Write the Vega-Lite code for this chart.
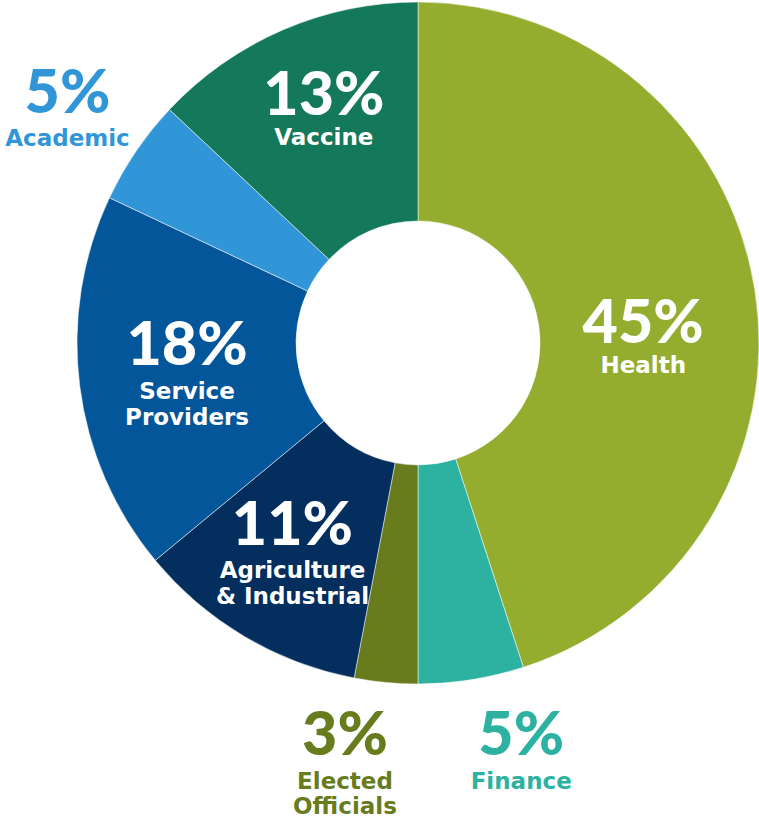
{
  "$schema": "https://vega.github.io/schema/vega-lite/v6.json",
  "width": 682,
  "height": 682,
  "autosize": {"type": "none"},
  "padding": {"left": 77, "top": 2, "right": 0, "bottom": 133},
  "background": "white",
  "config": {"view": {"stroke": null}},
  "data": {
    "values": [
      {"idx": 1, "category": "Health", "value": 45, "pct": "45%", "name": "Health"},
      {"idx": 2, "category": "Finance", "value": 5, "pct": "5%", "name": "Finance"},
      {"idx": 3, "category": "Elected Officials", "value": 3, "pct": "3%", "name": "Elected\nOfficials"},
      {"idx": 4, "category": "Agriculture & Industrial", "value": 11, "pct": "11%", "name": "Agriculture\n& Industrial"},
      {"idx": 5, "category": "Service Providers", "value": 18, "pct": "18%", "name": "Service\nProviders"},
      {"idx": 6, "category": "Academic", "value": 5, "pct": "5%", "name": "Academic"},
      {"idx": 7, "category": "Vaccine", "value": 13, "pct": "13%", "name": "Vaccine"}
    ]
  },
  "encoding": {
    "theta": {"field": "value", "type": "quantitative", "stack": true},
    "order": {"field": "idx", "type": "quantitative"},
    "detail": {"field": "category", "type": "nominal"}
  },
  "layer": [
    {
      "mark": {"type": "arc", "outerRadius": 341, "innerRadius": 122, "stroke": "white", "strokeWidth": 0.5},
      "encoding": {
        "color": {
          "field": "category", "type": "nominal", "legend": null,
          "scale": {
            "domain": ["Health", "Finance", "Elected Officials", "Agriculture & Industrial", "Service Providers", "Academic", "Vaccine"],
            "range": ["#95AD2E", "#2DB1A0", "#687B1D", "#032E5E", "#04569A", "#3196D7", "#13795A"]
          }
        }
      }
    },
    {
      "mark": {"type": "text", "radius": 228, "dy": 36, "align": "center", "baseline": "alphabetic", "font": "Lato", "fontWeight": 900, "fontSize": 61, "color": "white"},
      "encoding": {"text": {"condition": {"test": "datum.category === 'Health'", "field": "pct", "type": "nominal"}, "value": ""}}
    },
    {
      "mark": {"type": "text", "radius": 228, "dy": 66, "align": "center", "baseline": "alphabetic", "font": "DejaVu Sans", "fontWeight": "bold", "fontSize": 23, "lineHeight": 25.5, "lineBreak": "\n", "color": "white"},
      "encoding": {"text": {"condition": {"test": "datum.category === 'Health'", "field": "name", "type": "nominal"}, "value": ""}}
    },
    {
      "mark": {"type": "text", "radius": 237, "dy": -10.5, "align": "center", "baseline": "alphabetic", "font": "Lato", "fontWeight": 900, "fontSize": 61, "color": "white"},
      "encoding": {"text": {"condition": {"test": "datum.category === 'Vaccine'", "field": "pct", "type": "nominal"}, "value": ""}}
    },
    {
      "mark": {"type": "text", "radius": 237, "dy": 19.5, "align": "center", "baseline": "alphabetic", "font": "DejaVu Sans", "fontWeight": "bold", "fontSize": 23, "lineHeight": 25.5, "lineBreak": "\n", "color": "white"},
      "encoding": {"text": {"condition": {"test": "datum.category === 'Vaccine'", "field": "name", "type": "nominal"}, "value": ""}}
    },
    {
      "mark": {"type": "text", "radius": 232.8, "dy": -7, "align": "center", "baseline": "alphabetic", "font": "Lato", "fontWeight": 900, "fontSize": 61, "color": "white"},
      "encoding": {"text": {"condition": {"test": "datum.category === 'Service Providers'", "field": "pct", "type": "nominal"}, "value": ""}}
    },
    {
      "mark": {"type": "text", "radius": 232.8, "dy": 27, "align": "center", "baseline": "alphabetic", "font": "DejaVu Sans", "fontWeight": "bold", "fontSize": 23, "lineHeight": 25.5, "lineBreak": "\n", "color": "white"},
      "encoding": {"text": {"condition": {"test": "datum.category === 'Service Providers'", "field": "name", "type": "nominal"}, "value": ""}}
    },
    {
      "mark": {"type": "text", "radius": 246.6, "dy": -10, "align": "center", "baseline": "alphabetic", "font": "Lato", "fontWeight": 900, "fontSize": 61, "color": "white"},
      "encoding": {"text": {"condition": {"test": "datum.category === 'Agriculture & Industrial'", "field": "pct", "type": "nominal"}, "value": ""}}
    },
    {
      "mark": {"type": "text", "radius": 246.6, "dy": 23, "align": "center", "baseline": "alphabetic", "font": "DejaVu Sans", "fontWeight": "bold", "fontSize": 23, "lineHeight": 25.5, "lineBreak": "\n", "color": "white"},
      "encoding": {"text": {"condition": {"test": "datum.category === 'Agriculture & Industrial'", "field": "name", "type": "nominal"}, "value": ""}}
    },
    {
      "mark": {"type": "text", "radius": 423.8, "dy": 8, "align": "center", "baseline": "alphabetic", "font": "Lato", "fontWeight": 900, "fontSize": 61, "color": "#3196D7"},
      "encoding": {"text": {"condition": {"test": "datum.category === 'Academic'", "field": "pct", "type": "nominal"}, "value": ""}}
    },
    {
      "mark": {"type": "text", "radius": 423.8, "dy": 41, "align": "center", "baseline": "alphabetic", "font": "DejaVu Sans", "fontWeight": "bold", "fontSize": 23, "lineHeight": 25.5, "lineBreak": "\n", "color": "#3196D7"},
      "encoding": {"text": {"condition": {"test": "datum.category === 'Academic'", "field": "name", "type": "nominal"}, "value": ""}}
    },
    {
      "mark": {"type": "text", "radius": 420, "dx": -33.5, "dy": -6, "align": "center", "baseline": "alphabetic", "font": "Lato", "fontWeight": 900, "fontSize": 61, "color": "#687B1D"},
      "encoding": {"text": {"condition": {"test": "datum.category === 'Elected Officials'", "field": "pct", "type": "nominal"}, "value": ""}}
    },
    {
      "mark": {"type": "text", "radius": 420, "dx": -33.5, "dy": 28, "align": "center", "baseline": "alphabetic", "font": "DejaVu Sans", "fontWeight": "bold", "fontSize": 23, "lineHeight": 25, "lineBreak": "\n", "color": "#687B1D"},
      "encoding": {"text": {"condition": {"test": "datum.category === 'Elected Officials'", "field": "name", "type": "nominal"}, "value": ""}}
    },
    {
      "mark": {"type": "text", "radius": 420, "dx": 37.5, "dy": -3, "align": "center", "baseline": "alphabetic", "font": "Lato", "fontWeight": 900, "fontSize": 61, "color": "#2DB1A0"},
      "encoding": {"text": {"condition": {"test": "datum.category === 'Finance'", "field": "pct", "type": "nominal"}, "value": ""}}
    },
    {
      "mark": {"type": "text", "radius": 420, "dx": 37.5, "dy": 31, "align": "center", "baseline": "alphabetic", "font": "DejaVu Sans", "fontWeight": "bold", "fontSize": 23, "lineHeight": 25.5, "lineBreak": "\n", "color": "#2DB1A0"},
      "encoding": {"text": {"condition": {"test": "datum.category === 'Finance'", "field": "name", "type": "nominal"}, "value": ""}}
    }
  ]
}
